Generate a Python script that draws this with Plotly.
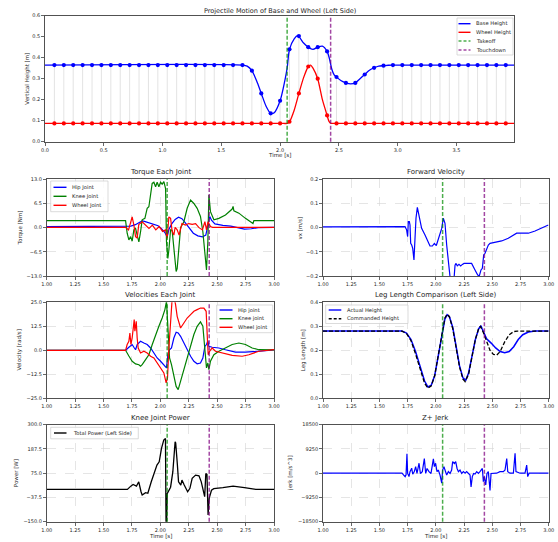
import plotly.graph_objects as go

W, H = 558, 542
FONT = "DejaVu Sans"
TXT = "#262626"

# ---------------- data ----------------
takeoff_t = 2.06
touchdown_t = 2.43

# Projectile motion (top)
base_t = [0.00, 1.68, 1.72, 1.76, 1.80, 1.84, 1.88, 1.92, 1.95, 2.00, 2.04, 2.06, 2.08, 2.12, 2.15,
          2.20, 2.24, 2.28, 2.32, 2.36, 2.40, 2.42, 2.44, 2.46, 2.48, 2.52, 2.56, 2.60, 2.64, 2.68,
          2.72, 2.76, 2.80, 2.84, 2.88, 2.92, 2.96, 3.99]
base_z = [0.365, 0.365, 0.360, 0.338, 0.290, 0.230, 0.170, 0.135, 0.138, 0.195, 0.290, 0.350, 0.440, 0.490, 0.505,
          0.470, 0.450, 0.440, 0.450, 0.455, 0.430, 0.395, 0.345, 0.318, 0.308, 0.290, 0.280, 0.275, 0.280, 0.300,
          0.320, 0.340, 0.352, 0.360, 0.362, 0.364, 0.365, 0.365]
wheel_t = [0.00, 2.03, 2.06, 2.08, 2.12, 2.16, 2.20, 2.24, 2.26, 2.28, 2.32, 2.36, 2.40, 2.415, 2.43, 2.45, 2.50, 3.99]
wheel_z = [0.087, 0.087, 0.087, 0.095, 0.150, 0.230, 0.305, 0.358, 0.365, 0.350, 0.300, 0.200, 0.125, 0.098, 0.088,
           0.087, 0.087, 0.087]

marker_t = [0.08, 0.16, 0.24, 0.32, 0.40, 0.48, 0.56, 0.64, 0.72, 0.80, 0.88, 0.96, 1.04, 1.12, 1.20,
            1.28, 1.36, 1.44, 1.52, 1.60, 1.68, 1.76, 1.84, 1.92, 2.00, 2.08, 2.16, 2.24, 2.32, 2.40,
            2.48, 2.56, 2.64, 2.72, 2.80, 2.88, 2.96, 3.04, 3.12, 3.20, 3.28, 3.36, 3.44, 3.52, 3.60,
            3.68, 3.76, 3.84, 3.92]
base_marker = ([0.365] * 21 +
               [0.338, 0.230, 0.135, 0.195, 0.440, 0.503, 0.450, 0.450, 0.430, 0.308, 0.280, 0.280, 0.320, 0.352, 0.362] +
               [0.365] * 13)
wheel_marker = [0.087] * 25 + [0.095, 0.230, 0.358, 0.300, 0.125] + [0.087] * 19

# Torque each joint
tq_hip_t = [1.00, 1.70, 1.74, 1.78, 1.81, 1.84, 1.86, 1.90, 1.94, 1.98, 2.01, 2.04, 2.06, 2.075, 2.10, 2.13, 2.16,
            2.19, 2.22, 2.25, 2.29, 2.33, 2.37, 2.40, 2.42, 2.435, 2.45, 2.48, 2.55, 2.62, 2.68, 2.74, 2.80, 2.86, 3.00]
tq_hip_v = [0.3, 0.3, 0.4, 0.8, 1.2, 1.8, 1.7, 1.3, 1.1, 0.5, -0.3, -1.3, -2.5, -0.5, 1.0, 2.2, 2.8,
            2.4, 1.3, 0.0, -1.5, -2.2, -2.5, -2.0, 0.5, 3.0, 2.0, 1.0, 0.6, 0.4, 0.0, -0.4, -0.3, 0.0, 0.1]
tq_knee_t = [1.00, 1.694, 1.708, 1.723, 1.738, 1.752, 1.767, 1.782, 1.796, 1.811, 1.826, 1.840, 1.864, 1.884,
             1.899, 1.914, 1.928, 1.943, 1.958, 1.972, 1.987, 2.002, 2.016, 2.031, 2.046, 2.054, 2.066, 2.075,
             2.090, 2.104, 2.119, 2.139, 2.148, 2.165, 2.178, 2.207, 2.236, 2.266, 2.295, 2.324, 2.353, 2.374,
             2.392, 2.406, 2.418, 2.427, 2.441, 2.471, 2.515, 2.573, 2.632, 2.640, 2.647, 2.691, 2.749, 2.808,
             2.815, 2.823, 3.00]
tq_knee_v = [1.9, 1.9, -1.5, -3.3, -2.4, -3.6, -0.6, -0.2, -2.0, -3.8, -1.1, 2.1, 2.5, 5.2,
             5.6, 8.8, 11.9, 12.2, 11.0, 12.2, 11.0, 12.2, 11.7, 12.4, 10.5, -3.8, -8.3, -6.0,
             -0.5, -0.8, -6.0, -11.8, -11.0, -4.0, 0.0, 1.6, 5.2, 7.4, 6.5, 5.2, 3.0, -1.1,
             -6.5, -11.4, -3.8, 8.8, 4.3, 2.1, 2.5, 3.4, 5.0, 5.7, 4.5, 3.9, 2.5, 1.4,
             1.1, 1.9, 1.9]
tq_wheel_t = [1.00, 1.694, 1.72, 1.74, 1.752, 1.767, 1.782, 1.796, 1.81, 1.84, 1.87, 1.90, 1.93, 1.96, 1.99,
              2.02, 2.046, 2.06, 2.075, 2.09, 2.104, 2.119, 2.13, 2.148, 2.165, 2.19, 2.22, 2.25, 2.28, 2.31,
              2.34, 2.37, 2.392, 2.406, 2.42, 2.441, 2.46, 3.00]
tq_wheel_v = [0.1, 0.1, -0.6, 1.5, 2.9, 0.7, -2.4, -2.8, 0.8, 1.6, 0.7, -0.2, 0.7, -0.6, 0.3,
              -1.0, -0.6, -2.9, 2.9, 2.5, -1.0, -2.0, 0.1, -0.6, -2.0, 1.1, 0.7, 1.1, 0.9, 1.1,
              0.0, -0.6, 1.6, -0.6, 1.6, 0.3, 0.1, 0.1]

# Velocities each joint
vel_hip_t = [1.00, 1.694, 1.723, 1.752, 1.767, 1.782, 1.796, 1.826, 1.855, 1.884, 1.914, 1.943, 1.972, 2.002,
             2.031, 2.054, 2.066, 2.081, 2.098, 2.119, 2.139, 2.157, 2.178, 2.207, 2.236, 2.266, 2.295, 2.324,
             2.353, 2.374, 2.392, 2.406, 2.418, 2.427, 2.456, 2.515, 2.573, 2.661, 2.749, 2.837, 3.00]
vel_hip_v = [0.0, 0.0, 1.6, 3.0, 1.6, 0.3, 3.0, 4.7, 3.8, 3.0, 1.2, -1.4, -4.0, -5.7,
             -7.5, -9.2, -2.3, 0.3, 1.2, 6.4, 9.4, 9.0, 7.3, 3.8, 0.3, -3.1, -5.7, -7.0,
             -6.6, -4.0, 2.1, 3.0, 5.0, 2.1, 1.6, 1.2, 0.3, -0.9, -1.0, -0.5, 0.2]
vel_knee_t = [1.00, 1.694, 1.723, 1.752, 1.782, 1.811, 1.826, 1.840, 1.870, 1.899, 1.928, 1.958, 1.987, 2.016,
              2.040, 2.054, 2.066, 2.081, 2.098, 2.119, 2.139, 2.157, 2.178, 2.207, 2.236, 2.266, 2.295, 2.324,
              2.353, 2.374, 2.392, 2.406, 2.418, 2.427, 2.441, 2.471, 2.515, 2.573, 2.632, 2.691, 2.749, 2.808,
              2.866, 3.00]
vel_knee_v = [0.0, 0.0, -3.0, -5.7, -7.1, -7.5, -8.3, -7.5, -4.9, -2.3, 2.9, 8.2, 12.5, 16.8,
              21.2, 25.5, 13.4, -4.0, -7.5, -12.7, -18.8, -20.5, -16.1, -9.2, -3.1, 2.9, 8.2, 12.5,
              14.8, 12.5, 1.2, -9.2, -6.6, -10.1, -5.7, -2.3, -0.5, 1.2, 3.0, 3.8, 3.0, 1.2,
              0.3, 0.2]
vel_wheel_t = [1.00, 1.694, 1.708, 1.723, 1.732, 1.741, 1.752, 1.761, 1.770, 1.776, 1.788, 1.796, 1.805, 1.826,
               1.855, 1.884, 1.914, 1.943, 1.972, 2.002, 2.031, 2.051, 2.063, 2.075, 2.090, 2.104, 2.119, 2.134,
               2.148, 2.178, 2.207, 2.236, 2.266, 2.295, 2.324, 2.353, 2.383, 2.403, 2.415, 2.421, 2.433, 2.456,
               2.485, 2.544, 2.632, 2.720, 2.779, 2.867, 3.00]
vel_wheel_v = [0.0, 0.0, 3.0, 4.7, 9.0, 3.0, 6.4, 13.4, 16.0, 9.9, 15.1, 6.4, 1.2, -1.4,
               -0.5, -1.4, -3.1, -4.0, -6.6, -9.2, -11.8, -17.0, -14.4, 1.2, 18.6, 27.0, 28.0, 23.8,
               17.7, 11.6, 14.2, 16.8, 18.6, 20.3, 21.2, 22.0, 22.0, 20.3, 4.7, -2.3, -0.5, 1.2,
               -0.5, -1.4, -2.6, -3.1, -2.3, -0.5, 0.3]

# Knee joint power
pow_t = [1.00, 1.71, 1.74, 1.76, 1.79, 1.81, 1.83, 1.84, 1.87, 1.89, 1.92, 1.94, 1.97, 1.99, 2.01, 2.03,
         2.045, 2.05, 2.055, 2.06, 2.08, 2.09, 2.11, 2.13, 2.135, 2.15, 2.16, 2.18, 2.19, 2.21, 2.24, 2.26,
         2.28, 2.31, 2.34, 2.36, 2.39, 2.40, 2.41, 2.42, 2.43, 2.45, 2.47, 2.55, 2.64, 2.74, 2.84, 3.00]
pow_v = [0, 0, 15, 23, 15, 35, -11, -26, -15, -18, 35, 66, 113, 128, 190, 229,
         236, -160, -160, -20, 3, 10, 82, 221, 215, 113, 35, 20, 43, 20, -11, 5,
         51, 66, 63, 35, -34, 74, 70, -119, -40, -4, 3, 8, 15, 8, 0, 0]

# Forward velocity
vx_t = [1.00, 1.697, 1.727, 1.741, 1.750, 1.756, 1.765, 1.771, 1.777, 1.786, 1.795, 1.806, 1.815, 1.824,
        1.836, 1.845, 1.860, 1.874, 1.904, 1.933, 1.948, 1.969, 1.987, 2.004, 2.022, 2.052, 2.066, 2.081,
        2.096, 2.117, 2.134, 2.155, 2.170, 2.179, 2.190, 2.205, 2.220, 2.235, 2.250, 2.273, 2.303, 2.317,
        2.347, 2.371, 2.385, 2.400, 2.412, 2.424, 2.436, 2.450, 2.465, 2.480, 2.524, 2.583, 2.642, 2.687,
        2.716, 2.761, 2.820, 2.879, 2.938, 2.997]
vx_v = [0.003, 0.004, 0.004, -0.009, -0.037, 0.025, 0.025, 0.011, -0.065, -0.072, -0.086, -0.134, -0.058, 0.039,
        0.084, 0.066, 0.025, -0.003, -0.030, -0.065, -0.076, -0.076, -0.065, -0.074, -0.050, -0.003, 0.039, 0.018,
        -0.072, -0.168, -0.240, -0.250, -0.155, -0.148, -0.158, -0.152, -0.158, -0.152, -0.148, -0.148, -0.146, -0.148,
        -0.175, -0.196, -0.200, -0.175, -0.168, -0.113, -0.106, -0.085, -0.072, -0.065, -0.062, -0.055, -0.044, -0.030,
        -0.023, -0.023, -0.023, -0.014, -0.003, 0.011]

# Leg length comparison
leg_act_t = [1.00, 1.70, 1.74, 1.78, 1.82, 1.86, 1.90, 1.93, 1.96, 1.99, 2.02, 2.05, 2.08, 2.10, 2.12, 2.15,
             2.18, 2.21, 2.24, 2.265, 2.29, 2.32, 2.35, 2.38, 2.40, 2.41, 2.43, 2.45, 2.49, 2.53, 2.57, 2.61,
             2.65, 2.69, 2.73, 2.77, 2.82, 2.88, 3.00]
leg_act_v = [0.28, 0.28, 0.272, 0.245, 0.195, 0.13, 0.072, 0.047, 0.055, 0.095, 0.17, 0.255, 0.33, 0.348, 0.34, 0.295,
             0.215, 0.135, 0.085, 0.075, 0.105, 0.175, 0.245, 0.29, 0.302, 0.29, 0.265, 0.248, 0.23, 0.21, 0.195, 0.19,
             0.195, 0.215, 0.245, 0.265, 0.276, 0.28, 0.28]
leg_cmd_t = [1.00, 1.70, 1.74, 1.78, 1.82, 1.86, 1.90, 1.93, 1.96, 1.99, 2.02, 2.05, 2.08, 2.10, 2.12, 2.15,
             2.18, 2.21, 2.24, 2.26, 2.29, 2.32, 2.35, 2.38, 2.395, 2.42, 2.45, 2.48, 2.51, 2.54, 2.57, 2.61,
             2.65, 2.69, 2.72, 3.00]
leg_cmd_v = [0.28, 0.28, 0.27, 0.24, 0.185, 0.12, 0.063, 0.042, 0.052, 0.095, 0.175, 0.26, 0.335, 0.35, 0.34, 0.29,
             0.21, 0.13, 0.08, 0.07, 0.10, 0.175, 0.245, 0.292, 0.30, 0.275, 0.235, 0.20, 0.183, 0.18, 0.195, 0.235,
             0.265, 0.278, 0.28, 0.28]

# Z+ jerk
jerk_t = [1.00, 1.70, 1.715, 1.728, 1.736, 1.744, 1.750, 1.762, 1.771, 1.786, 1.795, 1.809, 1.821, 1.833, 1.851,
          1.863, 1.880, 1.898, 1.910, 1.922, 1.939, 1.957, 1.969, 1.978, 1.987, 1.998, 2.010, 2.022, 2.037, 2.046,
          2.052, 2.060, 2.072, 2.081, 2.096, 2.111, 2.126, 2.140, 2.149, 2.164, 2.176, 2.188, 2.200, 2.214, 2.229,
          2.244, 2.259, 2.273, 2.288, 2.303, 2.312, 2.323, 2.335, 2.347, 2.362, 2.377, 2.391, 2.400, 2.412, 2.421,
          2.430, 2.442, 2.453, 2.465, 2.480, 2.489, 2.509, 2.539, 2.568, 2.598, 2.613, 2.628, 2.637, 2.657, 2.687,
          2.702, 2.710, 2.746, 2.790, 2.805, 2.814, 2.826, 2.900, 2.952, 3.00]
jerk_v = [0, 0, -700, -1300, -600, 7400, -100, -1300, 600, 1900, -400, 600, 2500, -100, 3800,
          -100, 600, 5600, -100, 1800, 600, -100, 3100, 5500, 2500, 3800, 600, 1200, -700, -2000,
          -3800, 1200, 2500, 1200, -700, 600, -100, 1200, 4400, 3700, 4400, 1800, 600, 1200, -100,
          600, 0, 600, -100, -700, -5200, -1300, -100, -300, 600, -100, 600, 1200, 1800, -3200,
          -1300, -4500, -100, 600, -6600, -100, 0, 0, 600, 600, 1200, 5600, 600, 0, 0,
          7600, 600, 0, 0, 3100, -1300, 0, 0, -100, 0]

# tick values / labels
top_xticks = [0.0, 0.5, 1.0, 1.5, 2.0, 2.5, 3.0, 3.5]
top_yticks = [0.0, 0.1, 0.2, 0.3, 0.4, 0.5, 0.6]
low_xticks = [1.00, 1.25, 1.50, 1.75, 2.00, 2.25, 2.50, 2.75, 3.00]
torque_yticks = [-13.0, -6.5, 0.0, 6.5, 13.0]
vx_yticks = [-0.2, -0.1, 0.0, 0.1, 0.2]
vel_yticks = [-25.0, -12.5, 0.0, 12.5, 25.0]
leg_yticks = [0.0, 0.1, 0.2, 0.3, 0.4]
pow_yticks = [-150.0, -37.5, 75.0, 187.5, 300.0]
jerk_yticks = [-18500, -9250, 0, 9250, 18500]

BLUE, RED, GREEN, BLACK = "#0000ff", "#ff0000", "#008000", "#000000"
TAKEOFF_C = "rgba(0,140,0,0.7)"
TOUCH_C = "rgba(128,0,128,0.72)"


def X(px):
    return px / W


def Y(py):
    return 1 - py / H


def fmt(v, nd):
    s = f"{abs(v):.{nd}f}"
    return ("\u2212" + s) if v < 0 else s


fig = go.Figure()

# ---------------- top plot ----------------
stem_x, stem_y = [], []
for t, b, w in zip(marker_t, base_marker, wheel_marker):
    stem_x += [t, t, None]
    stem_y += [w, b, None]
fig.add_trace(go.Scatter(x=stem_x, y=stem_y, mode="lines", line=dict(color="rgba(150,150,150,0.45)", width=0.6),
                         xaxis="x", yaxis="y", hoverinfo="skip"))
fig.add_trace(go.Scatter(x=base_t, y=base_z, mode="lines", line=dict(color=BLUE, width=1.3, shape="spline", smoothing=0.8),
                         xaxis="x", yaxis="y"))
fig.add_trace(go.Scatter(x=wheel_t, y=wheel_z, mode="lines", line=dict(color=RED, width=1.3, shape="spline", smoothing=0.6),
                         xaxis="x", yaxis="y"))
fig.add_trace(go.Scatter(x=marker_t, y=base_marker, mode="markers", marker=dict(color=BLUE, size=4.2),
                         xaxis="x", yaxis="y"))
fig.add_trace(go.Scatter(x=marker_t, y=wheel_marker, mode="markers", marker=dict(color=RED, size=4.2),
                         xaxis="x", yaxis="y"))

# ---------------- lower plots ----------------
def line(xs, ys, c, ax, dash="solid", w=1.2):
    fig.add_trace(go.Scatter(x=xs, y=ys, mode="lines", line=dict(color=c, width=w, dash=dash),
                             xaxis="x" + ax, yaxis="y" + ax))

line(tq_hip_t, tq_hip_v, BLUE, "2")
line(tq_knee_t, tq_knee_v, GREEN, "2")
line(tq_wheel_t, tq_wheel_v, RED, "2")
line(vx_t, vx_v, BLUE, "3")
line(vel_hip_t, vel_hip_v, BLUE, "4")
line(vel_knee_t, vel_knee_v, GREEN, "4")
line(vel_wheel_t, vel_wheel_v, RED, "4")
line(leg_act_t, leg_act_v, BLUE, "5", w=1.5)
line(leg_cmd_t, leg_cmd_v, BLACK, "5", dash="4px,2px", w=1.3)
line(pow_t, pow_v, BLACK, "6", w=1.3)
line(jerk_t, jerk_v, BLUE, "7")

# ---------------- axes ----------------
def axis(domain, anchor, rng, tickvals, ticktext, grid):
    return dict(domain=domain, anchor=anchor, range=rng, tickvals=tickvals, ticktext=ticktext,
                automargin=False,
                showline=True, linecolor=TXT, linewidth=0.8, mirror=True, ticks="outside", ticklen=3,
                tickwidth=0.7, tickcolor=TXT, tickfont=dict(size=5, color=TXT, family=FONT),
                zeroline=False, showgrid=grid, gridcolor="#d3d3d3", gridwidth=0.6, griddash="dash")

LX = [X(46.7), X(274)]
RX = [X(323), X(548.7)]
R2 = [Y(276), Y(179.3)]
R3 = [Y(398.3), Y(302.3)]
R4 = [Y(521.7), Y(424.7)]
low_xt = [f"{v:.2f}" for v in low_xticks]

layout = dict(
    template="none",
    width=W, height=H, autosize=False, margin=dict(l=0, r=0, t=0, b=0, pad=0, autoexpand=False), showlegend=False,
    paper_bgcolor="white", plot_bgcolor="white", font=dict(family=FONT, color=TXT),
    xaxis=axis([X(45), X(514)], "y", [0, 3.99], top_xticks, [f"{v:.1f}" for v in top_xticks], False),
    yaxis=axis([Y(141.7), Y(15.7)], "x", [0, 0.6], top_yticks, [f"{v:.1f}" for v in top_yticks], False),
    xaxis2=axis(LX, "y2", [1, 3], low_xticks, low_xt, True),
    yaxis2=axis(R2, "x2", [-13, 13], torque_yticks, [fmt(v, 1) for v in torque_yticks], True),
    xaxis3=axis(RX, "y3", [1, 3], low_xticks, low_xt, True),
    yaxis3=axis(R2, "x3", [-0.2, 0.2], vx_yticks, [fmt(v, 1) for v in vx_yticks], True),
    xaxis4=axis(LX, "y4", [1, 3], low_xticks, low_xt, True),
    yaxis4=axis(R3, "x4", [-25, 25], vel_yticks, [fmt(v, 1) for v in vel_yticks], True),
    xaxis5=axis(RX, "y5", [1, 3], low_xticks, low_xt, True),
    yaxis5=axis(R3, "x5", [0, 0.4], leg_yticks, [fmt(v, 1) for v in leg_yticks], True),
    xaxis6=axis(LX, "y6", [1, 3], low_xticks, low_xt, True),
    yaxis6=axis(R4, "x6", [-150, 300], pow_yticks, [fmt(v, 1) for v in pow_yticks], True),
    xaxis7=axis(RX, "y7", [1, 3], low_xticks, low_xt, True),
    yaxis7=axis(R4, "x7", [-18500, 18500], jerk_yticks, [fmt(v, 0) for v in jerk_yticks], True),
)
fig.update_layout(**layout)

# ---------------- event lines ----------------
shapes = []
for ax in ["", "2", "3", "4", "5", "6", "7"]:
    xr = "x" + ax
    yr = ("y" + ax) + " domain"
    shapes.append(dict(type="line", xref=xr, yref=yr, x0=takeoff_t, x1=takeoff_t, y0=0, y1=1,
                       line=dict(color=TAKEOFF_C, width=1.5, dash="4px,2px")))
    shapes.append(dict(type="line", xref=xr, yref=yr, x0=touchdown_t, x1=touchdown_t, y0=0, y1=1,
                       line=dict(color=TOUCH_C, width=1.5, dash="4px,2px")))

annotations = []


def text(px, py, s, size, angle=0, xanchor="center"):
    annotations.append(dict(x=X(px), y=Y(py), xref="paper", yref="paper", text=s, showarrow=False,
                            font=dict(size=size, color=TXT, family=FONT), textangle=angle,
                            xanchor=xanchor, yanchor="middle"))


# ---------------- manual legends ----------------
def legend(box, entries, lx0, lx1, tx):
    x0, y0, x1, y1 = box
    shapes.append(dict(type="rect", xref="paper", yref="paper", x0=X(x0), x1=X(x1), y0=Y(y1), y1=Y(y0),
                       fillcolor="rgba(255,255,255,0.85)", line=dict(color="#cccccc", width=0.7), layer="above"))
    for label, color, dash, py in entries:
        shapes.append(dict(type="line", xref="paper", yref="paper", x0=X(lx0), x1=X(lx1), y0=Y(py), y1=Y(py),
                           line=dict(color=color, width=1.4, dash=dash), layer="above"))
        text(tx, py, label, 5.2, xanchor="left")


legend((457, 18, 513, 55), [("Base Height", BLUE, "solid", 23.7), ("Wheel Height", RED, "solid", 32.3),
                            ("Takeoff", TAKEOFF_C, "3px,2px", 41.0), ("Touchdown", TOUCH_C, "3px,2px", 50.0)],
       458.5, 470.5, 473.5)
legend((50.7, 181, 108, 211.7), [("Hip Joint", BLUE, "solid", 187.3), ("Knee Joint", GREEN, "solid", 196.3),
                                 ("Wheel Joint", RED, "solid", 205.3)], 53.5, 66.5, 70)
legend((216.7, 305, 272.7, 332.7), [("Hip joint", BLUE, "solid", 310), ("Knee joint", GREEN, "solid", 318.7),
                                    ("Wheel joint", RED, "solid", 327.3)], 219.5, 232.5, 235.5)
legend((50.7, 427.3, 138.3, 438.8), [("Total Power (Left Side)", BLACK, "solid", 433)], 54, 66.5, 70.5)
legend((325.7, 305, 408, 323.5), [("Actual Height", BLUE, "solid", 310), ("Commanded Height", BLACK, "3px,2px", 318.7)],
       328.7, 341.3, 344.7)

# ---------------- titles & labels ----------------
LC, RC = (46.7 + 274) / 2, (323 + 548.7) / 2
text(279.5, 10.5, "Projectile Motion of Base and Wheel (Left Side)", 6.5)
text(LC, 172.3, "Torque Each Joint", 7)
text(RC, 172.3, "Forward Velocity", 7)
text(LC, 295, "Velocities Each Joint", 7)
text(RC, 295, "Leg Length Comparison (Left Side)", 7)
text(LC, 418.3, "Knee Joint Power", 7)
text(RC, 418.3, "Z+ Jerk", 7)

text(279.5, 155.3, "Time [s]", 5.5)
text(LC, 535.7, "Time [s]", 5.5)
text(RC, 535.7, "Time [s]", 5.5)

text(28, 78.7, "Vertical Height [m]", 5.5, angle=-90)
text(20.7, 227.7, "Torque [Nm]", 5.5, angle=-90)
text(19.3, 350.3, "Velocity [rad/s]", 5.5, angle=-90)
text(16, 473.2, "Power [W]", 5.5, angle=-90)
text(299.7, 227.7, "vx [m/s]", 5.5, angle=-90)
text(303, 350.3, "Leg Length [m]", 5.5, angle=-90)
text(289.7, 473.2, "jerk [m/s^3]", 5.5, angle=-90)

fig.update_layout(shapes=shapes, annotations=annotations)
fig.write_html("out.html", config={"displayModeBar": False, "staticPlot": True},
               post_script="document.body.style.margin='0px';document.body.style.overflow='hidden';")
